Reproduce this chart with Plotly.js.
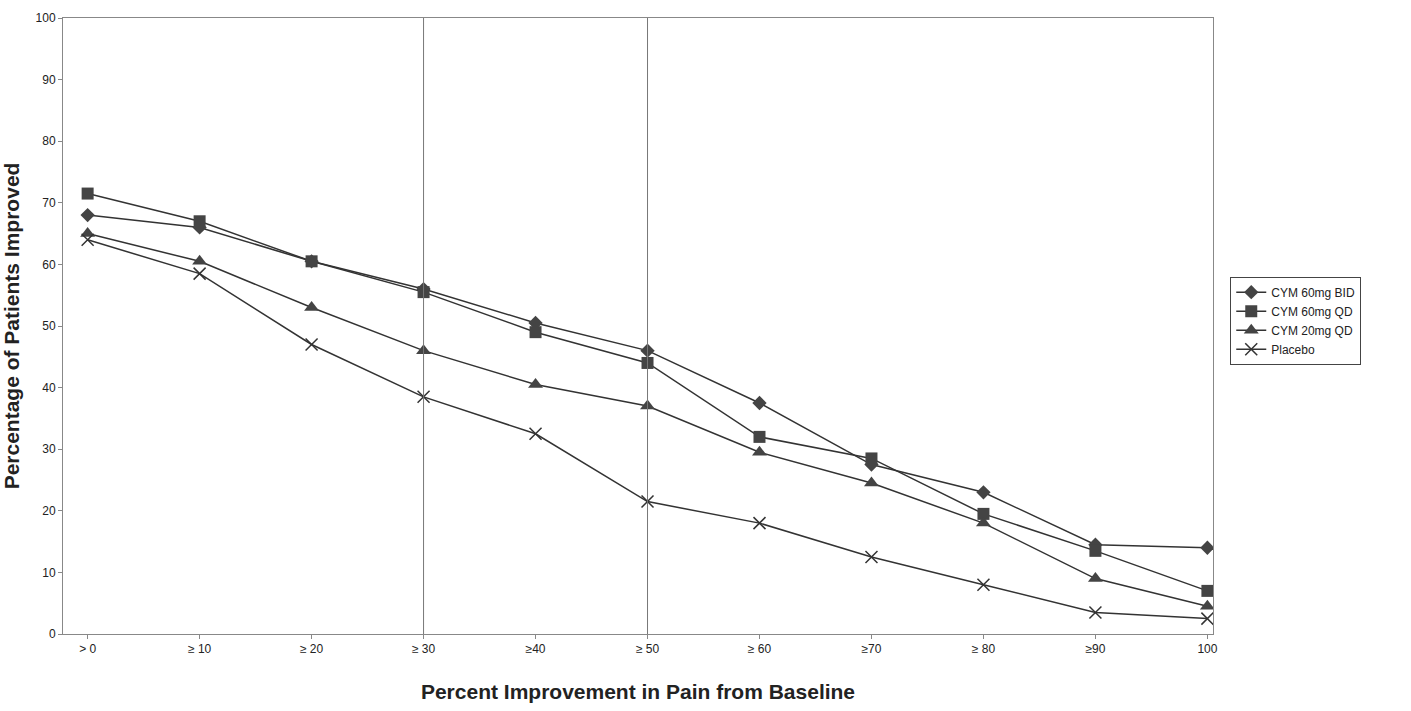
<!DOCTYPE html>
<html>
<head>
<script src="https://cdn.plot.ly/plotly-3.0.1.min.js"></script>
<style>body{margin:0;background:#fff}#chart{width:1411px;height:711px}</style>
</head>
<body>
<div id="chart"></div>
<script>
const categories = ['> 0', '≥ 10', '≥ 20', '≥ 30', '≥40', '≥ 50', '≥ 60', '≥70', '≥ 80', '≥90', '100'];
const bid60 = [68, 66, 60.5, 56, 50.5, 46, 37.5, 27.5, 23, 14.5, 14];
const qd60 = [71.5, 67, 60.5, 55.5, 49, 44, 32, 28.5, 19.5, 13.5, 7];
const qd20 = [65, 60.5, 53, 46, 40.5, 37, 29.5, 24.5, 18, 9, 4.5];
const placebo = [64, 58.5, 47, 38.5, 32.5, 21.5, 18, 12.5, 8, 3.5, 2.5];

const idx = categories.map((c, i) => i);
function series(name, y, symbol, size) {
  return {
    x: idx, y: y, name: name, type: 'scatter', mode: 'lines+markers',
    line: {color: '#333', width: 1.5},
    marker: {symbol: symbol, size: size, color: '#444', line: {color: '#333', width: symbol === 'x-thin' ? 1.5 : 0}}
  };
}
const data = [
  series('CYM 60mg BID', bid60, 'diamond', 11),
  series('CYM 60mg QD', qd60, 'square', 12),
  series('CYM 20mg QD', qd20, 'triangle-up', 13),
  series('Placebo', placebo, 'x-thin', 12)
];
const layout = {
  width: 1411, height: 711,
  margin: {l: 63, r: 198, t: 18, b: 77},
  paper_bgcolor: '#fff', plot_bgcolor: '#fff',
  font: {family: 'Liberation Sans, Arial, sans-serif', color: '#222', size: 12},
  xaxis: {
    range: [-0.22, 10.05], tickvals: idx, ticktext: categories,
    showgrid: false, zeroline: false, showline: true, linecolor: '#888', mirror: true,
    ticks: 'outside', ticklen: 4, tickcolor: '#888',
    title: {text: 'Percent Improvement in Pain from Baseline', font: {size: 21, family: 'Liberation Sans, Arial', weight: 'bold'}, standoff: 28}
  },
  yaxis: {
    range: [0, 100], dtick: 10, showgrid: false, zeroline: false,
    showline: true, linecolor: '#888', mirror: true, ticks: 'outside', ticklen: 4, tickcolor: '#888',
    title: {text: 'Percentage of Patients Improved', font: {size: 21, family: 'Liberation Sans, Arial', weight: 'bold'}, standoff: 12}
  },
  shapes: [3, 5].map(v => ({type: 'line', xref: 'x', yref: 'paper', x0: v, x1: v, y0: 0, y1: 1, line: {color: '#777', width: 1}})),
  legend: {x: 1.015, y: 0.58, xanchor: 'left', yanchor: 'top', bordercolor: '#444', borderwidth: 1, font: {size: 12}, tracegroupgap: 2}
};
Plotly.newPlot('chart', data, layout, {staticPlot: true});
</script>
</body>
</html>
